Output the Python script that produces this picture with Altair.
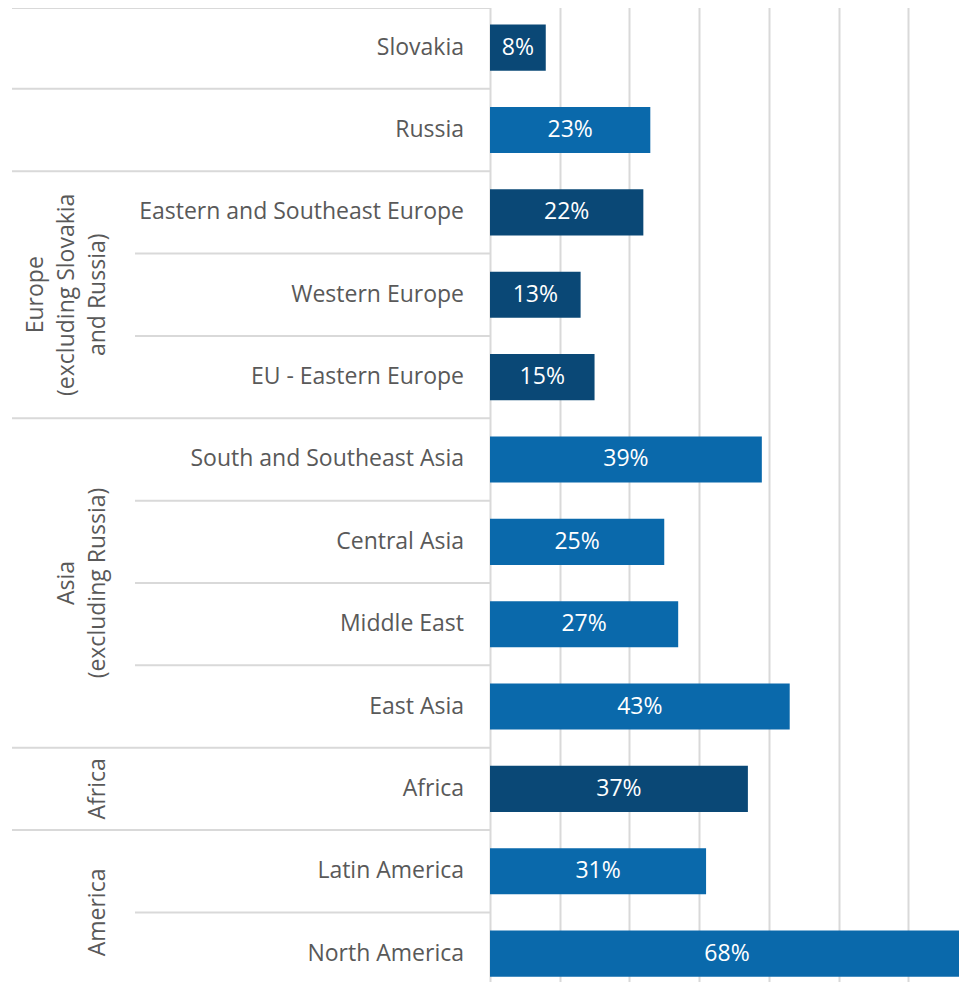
import altair as alt
import pandas as pd

groups = ["", "", "Europe\n(excluding Slovakia\nand Russia)", "Europe\n(excluding Slovakia\nand Russia)",
          "Europe\n(excluding Slovakia\nand Russia)", "Asia\n(excluding Russia)", "Asia\n(excluding Russia)",
          "Asia\n(excluding Russia)", "Asia\n(excluding Russia)", "Africa", "America", "America"]
group_ids = [0, 1, 2, 2, 2, 3, 3, 3, 3, 4, 5, 5]
subcategories = ["Slovakia", "Russia", "Eastern and Southeast Europe", "Western Europe",
                 "EU - Eastern Europe", "South and Southeast Asia", "Central Asia", "Middle East",
                 "East Asia", "Africa", "Latin America", "North America"]
values = [0.08, 0.23, 0.22, 0.13, 0.15, 0.39, 0.25, 0.27, 0.43, 0.37, 0.31, 0.68]
shade = ["dark", "light", "dark", "dark", "dark", "light", "light", "light", "light", "dark", "light", "light"]

FONT = "Open Sans"
FS = 23
GRAY = "#d9d9d9"
TEXT = "#595959"

df = pd.DataFrame({"group": groups, "gid": group_ids, "sub": subcategories,
                   "value": values, "shade": shade})
df["idx"] = range(len(df))
df["newgroup"] = [i == 0 or group_ids[i] != group_ids[i - 1] for i in range(len(df))]

gdf = df.groupby("gid").agg(group=("group", "first"), first=("idx", "min"), n=("idx", "count")).reset_index()
gdf["mid"] = gdf["first"] + gdf["n"] / 2.0
gdf = gdf[gdf["group"] != ""]

# one row per line of each rotated group label; k counts lines from the last one
line_rows = []
for _, r in gdf.iterrows():
    parts = r["group"].split("\n")
    for i, p in enumerate(parts):
        line_rows.append({"line": p, "mid": r["mid"], "k": len(parts) - 1 - i})
glines = pd.DataFrame(line_rows)

W = 951
H = 974
LW = 482
YR = [-1.5, 986.8]


def yband(pi=0.0, po=0.0, bp=None):
    kw = {}
    if bp is not None:
        kw["bandPosition"] = bp
    return alt.Y("sub:N", sort=subcategories, axis=None,
                 scale=alt.Scale(domain=subcategories, paddingInner=pi, paddingOuter=po, range=YR), **kw)


base = alt.Chart(df)
xs = alt.Scale(domain=[0, 0.7], range=[LW, LW + 487.9], nice=False)

bars = base.mark_bar().encode(
    x=alt.X("value:Q", scale=xs,
            axis=alt.Axis(values=[0, 0.1, 0.2, 0.3, 0.4, 0.5, 0.6], labels=False, ticks=False,
                          domain=False, grid=True, gridColor=GRAY, gridWidth=2, title=None)),
    y=yband(pi=0.44, po=0.22),
    color=alt.Color("shade:N", scale=alt.Scale(domain=["dark", "light"], range=["#0a4876", "#0a69ab"]),
                    legend=None))
vlabels = base.transform_calculate(mid="datum.value / 2").mark_text(
    align="center", baseline="middle", font=FONT, fontSize=FS, color="white").encode(
    x=alt.X("mid:Q", scale=xs, axis=None), y=yband(pi=0.44, po=0.22),
    text=alt.Text("value:Q", format=".0%"))

labels = base.mark_text(align="right", baseline="middle", font=FONT, fontSize=FS, color=TEXT).encode(
    x=alt.value(456), y=yband(), text="sub:N")
sep_group = base.transform_filter("datum.newgroup").mark_rule(color=GRAY, strokeWidth=2).encode(
    x=alt.value(4), x2=alt.value(LW), y=yband(bp=0))
sep_sub = base.transform_filter("!datum.newgroup").mark_rule(color=GRAY, strokeWidth=2).encode(
    x=alt.value(127), x2=alt.value(LW), y=yband(bp=0))
top_line = base.transform_filter("datum.idx == 0").mark_rule(color=GRAY, strokeWidth=2).encode(
    x=alt.value(4), x2=alt.value(LW), y=alt.value(0))
glabels = alt.Chart(glines).mark_text(angle=270, align="center", baseline="bottom",
                                      font=FONT, fontSize=FS, color=TEXT).encode(
    x=alt.X("k:Q", axis=None, scale=alt.Scale(domain=[0, 2], range=[102, 40], nice=False, zero=False)),
    y=alt.Y("mid:Q", axis=None, scale=alt.Scale(domain=[0, 12], range=YR, nice=False, zero=False)),
    text="line:N")

chart = alt.layer(sep_group, sep_sub, top_line, bars, vlabels, labels, glabels).resolve_scale(
    x="independent", y="independent").properties(
    width=W, height=H, padding=0, autosize=alt.AutoSizeParams(type="none")).configure_view(stroke=None)

chart.save("out.html", embed_options={"renderer": "svg", "actions": False})
